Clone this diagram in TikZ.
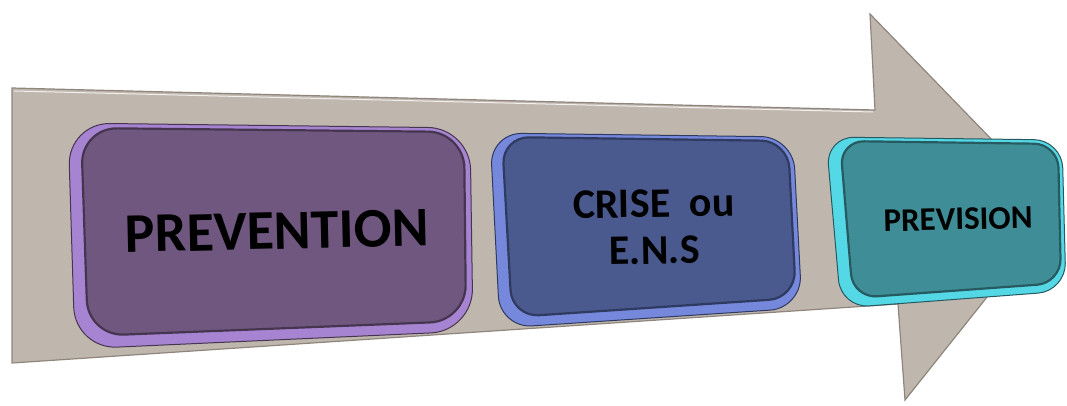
\documentclass[tikz,border=0pt]{standalone}
\usepackage{fontspec}
\setmainfont{Carlito}
\begin{document}
\begin{tikzpicture}[x=1pt,y=-1pt,
  arrowbody/.style={fill=arrowfill,draw=arrowedge,line width=1.2pt,line join=miter},
  boxtext/.style={font=\bfseries,text=black,align=center,inner sep=0pt},
]
\definecolor{arrowfill}{HTML}{BFB6AE}
\definecolor{arrowedge}{HTML}{8E857C}
\definecolor{pvmain}{HTML}{705780}
\definecolor{pvlight}{HTML}{A784D2}
\definecolor{pvdark}{HTML}{46354F}
\definecolor{crmain}{HTML}{4B5A8E}
\definecolor{crlight}{HTML}{7588DC}
\definecolor{crdark}{HTML}{2F3A60}
\definecolor{psmain}{HTML}{3F8E97}
\definecolor{pslight}{HTML}{55D8E6}
\definecolor{psdark}{HTML}{275A60}
\useasboundingbox (0,0) rectangle (1067,405);

% big arrow
\draw[arrowbody] (12,88) -- (875,110) -- (870,14) -- (1058,208) -- (905,400) -- (898,304) -- (12,363) -- cycle;
\draw[white!80!arrowfill,line width=1pt] (14,91) -- (873,112);

% PREVENTION box
\fill[pvlight,draw=pvdark,line width=1pt,rounded corners=42pt]
  (68,123) -- (470,128) -- (473,331) -- (75,349) -- cycle;
\fill[pvmain,draw=pvdark,line width=2.2pt,rounded corners=36pt]
  (81,128) -- (464,132) -- (466,321) -- (88,336) -- cycle;

% CRISE box
\fill[crlight,draw=crdark,line width=1pt,rounded corners=32pt]
  (490,133) -- (793,137) -- (802,308) -- (500,328) -- cycle;
\fill[crmain,draw=crdark,line width=2.2pt,rounded corners=27pt]
  (502,137) -- (788,141) -- (796,298) -- (512,317) -- cycle;

% PREVISION box
\fill[pslight,draw=psdark,line width=1pt,rounded corners=28pt]
  (826,137) -- (1062,140) -- (1066,291) -- (841,308) -- cycle;
\fill[psmain,draw=psdark,line width=2.2pt,rounded corners=24pt]
  (840,141) -- (1058,144) -- (1061,283) -- (853,298) -- cycle;

% texts
\node[boxtext,font=\fontsize{56}{56}\bfseries,rotate=1.3] (prev) at (277,231) {PREVENTION};
\node[boxtext,font=\fontsize{42}{47}\bfseries,rotate=1] (crise) at (654,227) {CRISE\ \ ou\\E.N.S};
\node[boxtext,font=\fontsize{33}{33}\bfseries,rotate=1.3] (previs) at (958,219) {PREVISION};
\end{tikzpicture}
\end{document}
